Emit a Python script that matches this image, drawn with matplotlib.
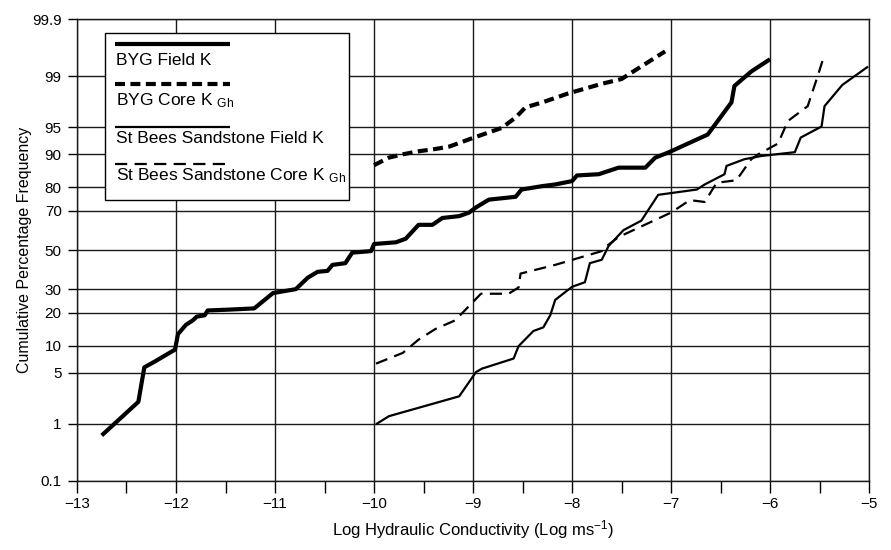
import numpy as np
import matplotlib
matplotlib.use("Agg")
import matplotlib.pyplot as plt
from matplotlib.patches import Rectangle
from statistics import NormalDist

plt.rcParams['font.family'] = ['Liberation Sans', 'DejaVu Sans']
plt.rcParams['mathtext.fontset'] = 'custom'
plt.rcParams['mathtext.rm'] = 'Liberation Sans'
plt.rcParams['mathtext.it'] = 'Liberation Sans'

# --- data (log K, cumulative %) ---
byg_field_x = [-12.75, -12.38, -12.32, -12.21, -12.01, -11.98, -11.90, -11.83, -11.79, -11.71,
               -11.68, -11.48, -11.21, -11.02, -10.79, -10.67, -10.57, -10.47, -10.42, -10.29,
               -10.22, -10.03, -10.00, -9.78, -9.68, -9.55, -9.41, -9.31, -9.14, -9.04,
               -8.97, -8.84, -8.57, -8.51, -8.30, -8.17, -8.00, -7.95, -7.73, -7.53,
               -7.26, -7.16, -7.03, -7.00, -6.63, -6.39, -6.36, -6.19, -6.00]
byg_field_p = [0.65, 2.1, 5.8, 6.8, 9.1, 13.0, 15.8, 17.3, 18.6, 19.1,
               20.9, 21.2, 21.7, 28.2, 30.0, 35.5, 38.5, 39.0, 42.1, 43.0,
               48.6, 49.4, 53.2, 54.1, 56.0, 63.2, 63.2, 66.6, 67.5, 69.2,
               71.6, 75.0, 76.2, 79.1, 80.4, 81.0, 82.2, 84.1, 84.5, 86.5,
               86.5, 89.2, 90.4, 90.7, 93.9, 97.6, 98.6, 99.16, 99.47]

byg_core_x = [-10.00, -9.85, -9.71, -9.55, -9.38, -9.24, -8.99, -8.71, -8.57, -8.47,
              -8.30, -8.04, -7.70, -7.50, -7.36, -7.06]
byg_core_p = [87.2, 89.2, 90.0, 90.7, 91.2, 91.7, 93.4, 94.9, 96.2, 97.2,
              97.6, 98.2, 98.7, 98.9, 99.2, 99.61]

stb_field_x = [-9.98, -9.85, -9.14, -8.97, -8.91, -8.59, -8.54, -8.39, -8.29, -8.22,
               -8.17, -8.00, -7.87, -7.82, -7.70, -7.63, -7.48, -7.30, -7.13, -6.74,
               -6.66, -6.46, -6.44, -6.26, -6.09, -5.75, -5.69, -5.48, -5.45, -5.27, -5.01]
stb_field_p = [0.98, 1.3, 2.5, 5.1, 5.6, 7.3, 9.9, 13.9, 15.0, 19.1,
               25.2, 31.1, 33.3, 43.0, 44.8, 52.2, 60.5, 65.3, 77.0, 79.1,
               81.0, 84.5, 87.0, 88.8, 89.6, 90.5, 93.4, 95.1, 97.3, 98.65, 99.3]

stb_core_x = [-9.98, -9.71, -9.55, -9.38, -9.18, -8.92, -8.64, -8.54, -8.52, -8.17,
              -7.70, -7.67, -7.53, -7.00, -6.81, -6.66, -6.54, -6.34, -6.19, -6.12,
              -5.92, -5.82, -5.62, -5.52, -5.45]
stb_core_p = [6.4, 8.4, 11.5, 14.5, 17.3, 27.9, 27.9, 30.8, 37.6, 42.1,
              49.4, 51.3, 56.9, 69.2, 74.8, 74.0, 81.6, 82.5, 88.8, 90.0,
              92.3, 95.8, 97.3, 99.0, 99.56]

y_ticks = [0.1, 1, 5, 10, 20, 30, 50, 70, 80, 90, 95, 99, 99.9]
y_tick_labels = ['0.1', '1', '5', '10', '20', '30', '50', '70', '80', '90', '95', '99', '99.9']
x_ticks = list(range(-13, -4))

labels = ['BYG Field K', 'BYG Core K $_{\\mathrm{Gh}}$',
          'St Bees Sandstone Field K', 'St Bees Sandstone Core K $_{\\mathrm{Gh}}$']

# normal probability scale
nd = NormalDist()
_ppf = np.vectorize(nd.inv_cdf, otypes=[float])
_cdf = np.vectorize(nd.cdf, otypes=[float])


def fwd(p):
    p = np.clip(np.asarray(p, dtype=float) / 100.0, 1e-9, 1 - 1e-9)
    return _ppf(p)


def inv(z):
    return _cdf(np.asarray(z, dtype=float)) * 100.0


fig = plt.figure(figsize=(8.91, 5.5), dpi=100)
ax = fig.add_axes([0.0864, 0.126, 0.8890, 0.8389])
ax.set_yscale('function', functions=(fwd, inv))

thick = dict(color='black', lw=3.0, solid_capstyle='butt')
thin = dict(color='black', lw=1.6, solid_capstyle='butt')
ax.plot(byg_field_x, byg_field_p, **thick, zorder=3)
ax.plot(byg_core_x, byg_core_p, **thick, dashes=(2.4, 1.3), zorder=3)
ax.plot(stb_field_x, stb_field_p, **thin, zorder=3)
ax.plot(stb_core_x, stb_core_p, **thin, dashes=(5.5, 3.3), zorder=3)

ax.set_xlim(-13, -5)
ax.set_ylim(0.1, 99.9)
ax.set_xticks(x_ticks)
ax.set_xticks(np.arange(-12.5, -5, 1.0), minor=True)
ax.set_yticks(y_ticks)
ax.set_yticklabels(y_tick_labels)
ax.yaxis.set_minor_locator(matplotlib.ticker.NullLocator())

ax.grid(True, which='major', color='#1a1a1a', lw=1.0, zorder=1)
for s in ax.spines.values():
    s.set_color('#1a1a1a')
    s.set_linewidth(1.0)
ax.tick_params(axis='x', which='both', direction='out', length=8.5, width=1, pad=3, labelsize=11)
ax.tick_params(axis='y', which='major', direction='out', length=6.5, width=1, pad=4.5, labelsize=11)

ax.set_xlabel('Log Hydraulic Conductivity (Log ms$^{-1}$)', fontsize=12)
ax.set_ylabel('Cumulative Percentage Frequency', fontsize=11.5)
ax.xaxis.set_label_coords(0.5, -0.082)
ax.yaxis.set_label_coords(-0.057, 0.5)

# legend box with line samples above each label
ax.add_patch(Rectangle((0.0353, 0.6084), 0.3085, 0.3626, transform=ax.transAxes,
                       facecolor='white', edgecolor='black', lw=1.0, zorder=5))
sample_y = [0.9465, 0.8591, 0.7672, 0.6864]
text_y = [0.9103, 0.8229, 0.7421, 0.6604]
styles = [dict(**thick), dict(**thick, dashes=(2.4, 1.3)), dict(**thin), dict(**thin, dashes=(5.5, 3.3))]
for sy, ty, st, lab in zip(sample_y, text_y, styles, labels):
    ax.plot([0.0479, 0.1936], [sy, sy], transform=ax.transAxes, zorder=6, **st)
    ax.text(0.0491, ty, lab, transform=ax.transAxes, fontsize=12.5, va='center', ha='left', zorder=6)

fig.savefig('out.png', dpi=100)
